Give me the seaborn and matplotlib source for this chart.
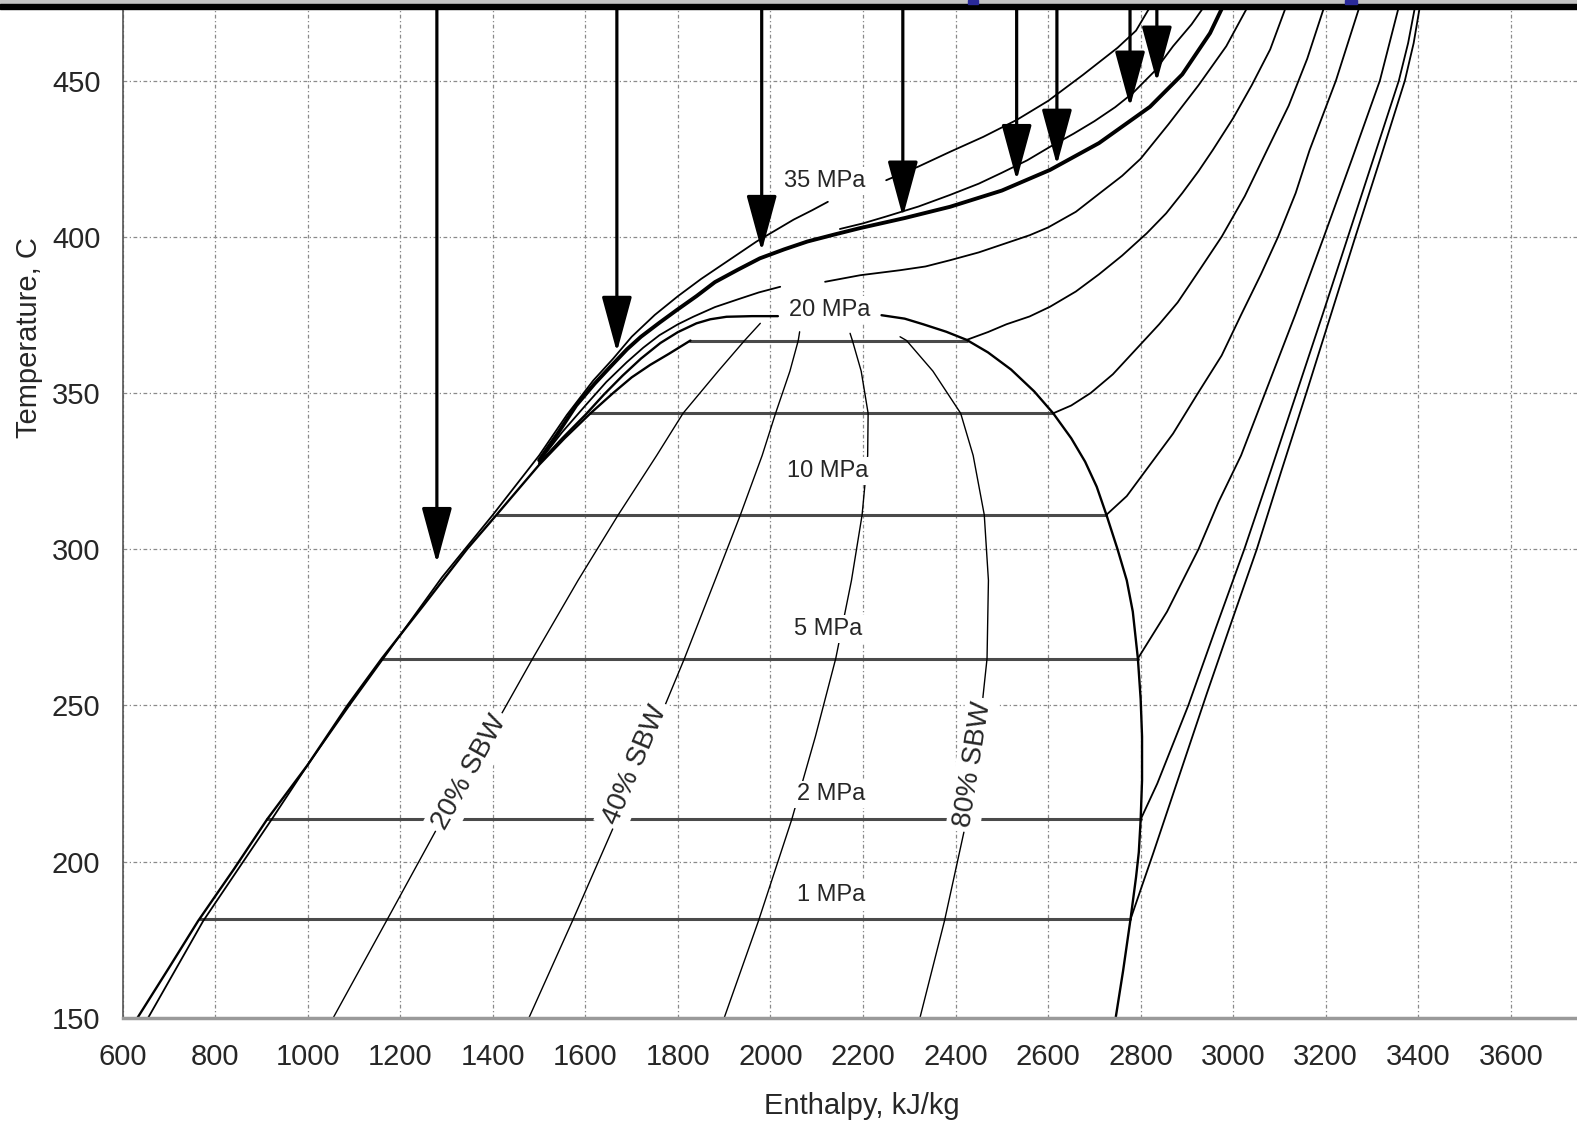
import numpy as np
import pandas as pd
import matplotlib
matplotlib.use('Agg')
import matplotlib.pyplot as plt
from matplotlib.patches import Rectangle
import seaborn as sns

# ---- values: enthalpy (kJ/kg) vs temperature (C) ----

# saturation dome
sat_liq_h = [632, 700, 763, 840, 912, 1000, 1086, 1160, 1250, 1344, 1408, 1500, 1555, 1611,
             1660, 1700, 1740, 1780, 1827]
sat_liq_t = [150, 166, 181, 197.5, 213.5, 231, 250, 265, 282, 300, 311, 327, 335.5, 343.5,
             350, 355, 359, 362.5, 366.8]
dome_top_h = [1500, 1550, 1600, 1640, 1680, 1720, 1762, 1800, 1840, 1870, 1905, 1960, 2016]
dome_top_t = [327.5, 335.5, 343, 349.5, 355.5, 361, 366, 369.5, 372.3, 373.6, 374.4, 374.6, 374.6]
sat_vap_h = [2240, 2290, 2330, 2380, 2424, 2470, 2520, 2570, 2611, 2650, 2680, 2705, 2726,
             2750, 2770, 2783, 2794, 2800, 2803, 2803, 2800, 2796, 2790, 2778, 2762, 2746]
sat_vap_t = [374.9, 373.8, 372, 369.6, 367, 363, 357.5, 350.5, 343.5, 335.5, 328, 320, 311,
             300, 290, 280, 265, 252, 240, 226, 213.5, 203, 195, 181.5, 165, 150]

# isobars inside the dome (MPa -> saturation temperature, liquid / vapour enthalpy)
flat_p = [1, 2, 5, 10, 15, 20]
flat_t = [181.5, 213.5, 265, 311, 343.5, 366.8]
flat_hf = [768, 912, 1160, 1408, 1611, 1827]
flat_hg = [2778, 2800, 2794, 2726, 2611, 2424]

# superheated isobars
sh1_h = [2778, 2800, 2827, 2880, 2943, 2997, 3051, 3104, 3158, 3211, 3264, 3318, 3371, 3390, 3406]
sh1_t = [181.5, 191, 202.6, 226, 253.8, 277, 300, 325, 350, 375, 400, 425, 450, 462, 476]
sh2_h = [2800, 2836, 2903, 2963, 3024, 3081, 3137, 3193, 3248, 3303, 3358, 3378, 3396]
sh2_t = [213.5, 225, 250, 275, 300, 325, 350, 375, 400, 425, 450, 462, 476]
sh5_h = [2794, 2857, 2925, 2968, 3017, 3069, 3134, 3196, 3257, 3317, 3362]
sh5_t = [265, 280, 300, 315, 330, 350, 375, 400, 425, 450, 476]
sh10_h = [2726, 2770, 2810, 2870, 2924, 2975, 3017, 3060, 3097, 3135, 3165, 3222, 3278]
sh10_t = [311, 317, 325, 337, 350, 362, 375, 388, 400, 414, 427.7, 450, 476]
sh15_h = [2611, 2650, 2692, 2740, 2790, 2840, 2880, 2930, 2975, 3025, 3073, 3120, 3160, 3202]
sh15_t = [343.5, 346, 350, 356, 364, 372, 379, 390, 400, 413, 427.7, 442, 457, 476]
sh20_h = [2424, 2470, 2510, 2560, 2604, 2660, 2710, 2760, 2813, 2855, 2890, 2925, 2956, 3000,
          3040, 3080, 3120]
sh20_t = [367, 369.5, 372, 374.5, 377.6, 382.5, 388, 394, 401.1, 407.5, 414, 421, 427.8, 438,
          448.5, 460, 476]

# supercritical isobars (broken where the original is broken)
p25_lo_h = [1500, 1550, 1600, 1645, 1689, 1725, 1760, 1800, 1833, 1880, 1930, 1975, 2021]
p25_lo_t = [328, 337.5, 346, 353.5, 359.8, 364.5, 368.5, 372, 374.4, 377.5, 380, 382.2, 384]
p25_hi_h = [2118, 2194, 2280, 2335, 2388, 2450, 2510, 2560, 2600, 2660, 2712, 2760, 2800, 2860,
            2925, 2985, 3040]
p25_hi_t = [385.6, 387.7, 389.3, 390.5, 392.5, 395, 398, 400.5, 403, 408, 414, 419.5, 425, 436,
            448.5, 461, 476]
p30_h = [1500, 1540, 1580, 1620, 1654, 1690, 1720, 1760, 1797, 1840, 1880, 1930, 1977, 2030,
         2080, 2140, 2194, 2290, 2388, 2500, 2604, 2710, 2820, 2890, 2950, 2985]
p30_t = [328.5, 337, 346, 353, 358.4, 364, 368, 372.5, 376.5, 381, 385.5, 389.5, 393.1, 396,
         398.5, 400.8, 402.8, 406, 409.6, 414.8, 421.4, 430, 441.6, 452, 465.2, 476]
p32_h = [2150, 2200, 2250, 2320, 2388, 2450, 2500, 2555, 2604, 2655, 2700, 2745, 2783, 2830,
         2870, 2910, 2948]
p32_t = [402.5, 404.3, 406.5, 409.7, 413.4, 417, 420.5, 424.5, 428.8, 433, 437, 441.5, 446, 453,
         461, 468, 476]
p35_lo_h = [655, 774, 922, 1000, 1090, 1190, 1290, 1400, 1500, 1560, 1617, 1660, 1700, 1750,
            1800, 1850, 1900, 1935, 1970, 2010, 2050, 2090, 2124]
p35_lo_t = [150, 181, 213.5, 231, 250, 270.5, 291, 311, 330, 343, 354, 361, 368, 375, 381,
            386.5, 391.5, 395, 398.5, 402, 405.5, 408.5, 411.2]
p35_hi_h = [2250, 2320, 2388, 2460, 2532, 2600, 2675, 2750, 2790, 2830]
p35_hi_t = [418.1, 422.5, 427.2, 432, 437.4, 443.5, 451.8, 460.5, 466, 476]

# constant steam-by-weight lines
q_temps = [150, 181, 213.5, 240, 265, 290, 311, 330, 343.5, 357, 366.8]
q20_h = [1055, 1170, 1290, 1391, 1486, 1584, 1671, 1754, 1811, 1887, 1944]
q40_h = [1478, 1572, 1668, 1744, 1814, 1880, 1935, 1982, 2011, 2042, 2060]
q60_h = [1900, 1974, 2046, 2097, 2141, 2175, 2198, 2210, 2211, 2196, 2177]
q80_h = [2323, 2376, 2424, 2450, 2468, 2471, 2462, 2438, 2411, 2351, 2294]
q_end_h = [1978, 2063, 2172, 2280]
q_end_t = [372.3, 369.6, 369.1, 368]

# flow arrows (enthalpy, tip temperature)
arrow_h = [1279, 1668, 1981, 2286, 2532, 2619, 2777, 2835]
arrow_tip_t = [295.5, 363.1, 395.4, 406.4, 418.1, 423, 441.6, 449.6]

# labels
mpa_labels = ['35 MPa', '20 MPa', '10 MPa', '5 MPa', '2 MPa', '1 MPa']
mpa_label_h = [2117, 2128, 2124, 2124, 2130, 2131]
mpa_label_t = [417.8, 376.6, 325.1, 274.5, 221.5, 189.2]
sbw_labels = ['20% SBW', '40% SBW', '80% SBW']
sbw_label_h = [1350, 1708, 2437]
sbw_label_t = [228.5, 231, 231]
sbw_angle = [61, 67, 81]

# ---- build one long table of line segments ----
rows = []
seg = 0
def add(style, hs, ts):
    global seg
    seg += 1
    for h, t in zip(hs, ts):
        rows.append((style, seg, h, t))

add('dome', sat_liq_h, sat_liq_t)
add('dome', dome_top_h, dome_top_t)
add('dome', sat_vap_h, sat_vap_t)
for t, hf, hg in zip(flat_t, flat_hf, flat_hg):
    add('flat', [hf, hg], [t, t])
for hs, ts in [(sh1_h, sh1_t), (sh2_h, sh2_t), (sh5_h, sh5_t), (sh10_h, sh10_t),
               (sh15_h, sh15_t), (sh20_h, sh20_t), (p25_lo_h, p25_lo_t),
               (p25_hi_h, p25_hi_t), (p32_h, p32_t), (p35_lo_h, p35_lo_t),
               (p35_hi_h, p35_hi_t)]:
    add('iso', hs, ts)
add('thick', p30_h, p30_t)
for qh, eh, et in zip([q20_h, q40_h, q60_h, q80_h], q_end_h, q_end_t):
    add('quality', qh + [eh], q_temps + [et])

df = pd.DataFrame(rows, columns=['style', 'seg', 'h', 'T'])

sns.set_theme(style='white')
plt.rcParams['font.family'] = ['Liberation Sans Narrow', 'Liberation Sans', 'DejaVu Sans']

fig = plt.figure(figsize=(15.77, 11.24), dpi=100)
ax = fig.add_axes([0.0778, 0.0945, 0.9222, 0.9055])

styles = {
    'flat': dict(color='#4a4a4a', linewidth=2.2),
    'quality': dict(color='black', linewidth=1.0),
    'iso': dict(color='black', linewidth=1.3),
    'dome': dict(color='black', linewidth=1.7),
    'thick': dict(color='black', linewidth=2.8),
}
for name, kw in styles.items():
    sns.lineplot(data=df[df['style'] == name], x='h', y='T', units='seg',
                 estimator=None, sort=False, legend=False, ax=ax, **kw)

# arrows from the top of the chart
for h, t in zip(arrow_h, arrow_tip_t):
    ax.annotate('', xy=(h, t), xytext=(h, 476), annotation_clip=False,
                arrowprops=dict(arrowstyle='-|>,head_length=3.5,head_width=0.95',
                                mutation_scale=10, color='black', lw=2.3,
                                shrinkA=0, shrinkB=0))

for s, h, t in zip(mpa_labels, mpa_label_h, mpa_label_t):
    ax.text(h, t, s, fontsize=17, ha='center', va='center', zorder=5,
            bbox=dict(fc='white', ec='none', pad=2))
for s, h, t, a in zip(sbw_labels, sbw_label_h, sbw_label_t, sbw_angle):
    ax.text(h, t, s, fontsize=20, ha='center', va='center', rotation=a,
            rotation_mode='anchor', zorder=5, bbox=dict(fc='white', ec='none', pad=3))

ax.set_xlim(600, 3743)
ax.set_ylim(150, 475.8)
ax.set_xticks(np.arange(600, 3601, 200))
ax.set_yticks(np.arange(150, 451, 50))
ax.grid(True, color='#8a8a8a', linewidth=0.9, linestyle=(0, (3, 2, 1, 2)))
ax.tick_params(axis='both', length=0, labelsize=21)
ax.tick_params(axis='x', pad=18)
ax.tick_params(axis='y', pad=16)
ax.set_xlabel('Enthalpy, kJ/kg', fontsize=21)
ax.set_ylabel('Temperature, C', fontsize=21)
ax.xaxis.set_label_coords(0.508, -0.073)
ax.yaxis.set_label_coords(-0.055, 0.668)
ax.spines['top'].set_visible(False)
ax.spines['right'].set_visible(False)
ax.spines['left'].set_color('#555555')
ax.spines['left'].set_linewidth(1.2)
ax.spines['bottom'].set_color('#9a9a9a')
ax.spines['bottom'].set_linewidth(2.5)

# scanned slide frame at the very top
fig.add_artist(Rectangle((0, 1 - 3.5 / 1124), 1, 3.5 / 1124, transform=fig.transFigure,
                         color='#c4c4c4', zorder=10))
fig.add_artist(Rectangle((0, 1 - 9 / 1124), 1, 5.5 / 1124, transform=fig.transFigure,
                         color='black', zorder=10))
fig.add_artist(Rectangle((968 / 1577, 1 - 3.5 / 1124), 10 / 1577, 3.5 / 1124,
                         transform=fig.transFigure, color='#2a2a9a', zorder=11))
fig.add_artist(Rectangle((1345 / 1577, 1 - 3.5 / 1124), 12 / 1577, 3.5 / 1124,
                         transform=fig.transFigure, color='#2a2a9a', zorder=11))

fig.savefig('out.png', dpi=100)
